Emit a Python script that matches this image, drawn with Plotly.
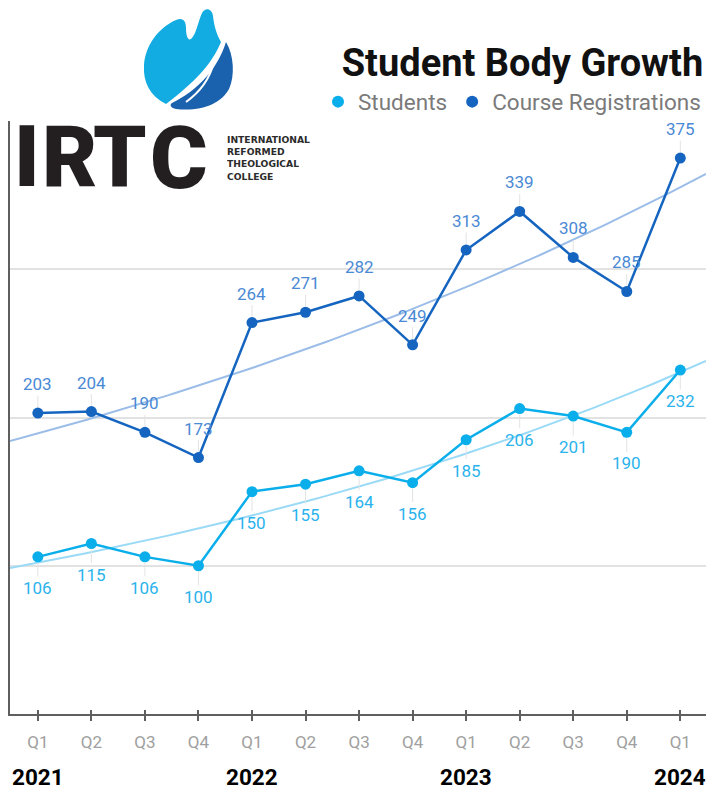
import numpy as np
import plotly.graph_objects as go

# ---------------- data ----------------
quarter_labels = ["Q1", "Q2", "Q3", "Q4", "Q1", "Q2", "Q3", "Q4", "Q1", "Q2", "Q3", "Q4", "Q1"]
year_labels = ["2021", "2022", "2023", "2024"]
year_positions = [0, 4, 8, 12]
students = [106, 115, 106, 100, 150, 155, 164, 156, 185, 206, 201, 190, 232]
registrations = [203, 204, 190, 173, 264, 271, 282, 249, 313, 339, 308, 285, 375]

# ---------------- style ----------------
C_STU = "#0aaeea"
C_REG = "#1565c0"
C_STU_LBL = "#2ab3ec"
C_REG_LBL = "#4a89d4"
C_STU_TR = "#9adaf6"
C_REG_TR = "#9bbde8"
W, H = 706, 791
ML, MR, MT, MB = 10, 0, 121, 77
PW, PH = W - ML - MR, H - MT - MB
XR = [-0.52, 12.48]

x = np.arange(len(students))


def exp_trend(vals):
    b, a = np.polyfit(x, np.log(vals), 1)
    xs = np.linspace(XR[0], XR[1], 120)
    return xs, np.exp(a + b * xs)


def px(xp, yp):
    return (xp - ML) / PW, (H - MB - yp) / PH


def path(cmds):
    out = []
    for c in cmds:
        if isinstance(c, str):
            out.append(c)
        else:
            a, b = px(*c)
            out.append(f"{a:.5f},{b:.5f}")
    return " ".join(out)


fig = go.Figure()

# trend lines
for vals, col in ((registrations, C_REG_TR), (students, C_STU_TR)):
    xs, ys = exp_trend(vals)
    fig.add_trace(go.Scatter(x=xs, y=ys, mode="lines", line=dict(color=col, width=2),
                             showlegend=False, hoverinfo="skip"))

# data lines
for vals, col in ((students, C_STU), (registrations, C_REG)):
    fig.add_trace(go.Scatter(x=x, y=vals, mode="lines", line=dict(color=col, width=2.5),
                             showlegend=False, hoverinfo="skip"))
# markers (legend entries)
fig.add_trace(go.Scatter(x=x, y=students, mode="markers", name="Students",
                         marker=dict(color=C_STU, size=11)))
fig.add_trace(go.Scatter(x=x, y=registrations, mode="markers", name="Course Registrations",
                         marker=dict(color=C_REG, size=11)))
# invisible trace for the overlay tick axis
fig.add_trace(go.Scatter(x=[None], y=[None], xaxis="x2", showlegend=False, hoverinfo="skip"))

ann = []
for i, v in enumerate(students):
    ann.append(dict(x=i, y=v, xref="x", yref="y", text=str(v), showarrow=True, ax=0, ay=31,
                    arrowhead=0, arrowwidth=1, arrowcolor="#e3e3e3", standoff=6,
                    font=dict(family="Roboto", size=17, color=C_STU_LBL)))
for i, v in enumerate(registrations):
    ann.append(dict(x=i, y=v, xref="x", yref="y", text=str(v), showarrow=True, ax=0, ay=-29,
                    arrowhead=0, arrowwidth=1, arrowcolor="#e3e3e3", standoff=6,
                    font=dict(family="Roboto", size=17, color=C_REG_LBL)))
for yl, xpos in zip(year_labels, year_positions):
    ann.append(dict(x=xpos, y=px(0, 777)[1], xref="x", yref="paper", text=yl, showarrow=False,
                    yanchor="middle", height=18, borderpad=0,
                    font=dict(family="Roboto", size=22.5, color="#000", weight="bold")))

# logo text
for letter, cx, fs in zip("IRTC", [27, 69, 120, 179], [85, 85, 85, 88]):
    a, b = px(cx, 157)
    ann.append(dict(x=a, y=b, xref="paper", yref="paper", text=letter, showarrow=False,
                    xanchor="center", yanchor="middle", borderpad=0,
                    font=dict(family="Roboto", size=fs, color="#231f20", weight=900)))
for t, yy in zip(["INTERNATIONAL", "REFORMED", "THEOLOGICAL", "COLLEGE"], [139, 151.5, 164, 176.5]):
    a, b = px(226, yy)
    ann.append(dict(x=a, y=b, xref="paper", yref="paper", text=t, showarrow=False,
                    xanchor="left", yanchor="middle", height=11, borderpad=0,
                    font=dict(family="DejaVu Sans", size=9.2, color="#2b2b2b", weight="bold")))

# flame shapes
light = path(["M", (166, 104), "C", (150, 96), (143, 82), (144, 66),
              "C", (145, 46), (158, 28), (176, 20),
              "C", (183, 17), (186, 21), (186, 28),
              "C", (186, 36), (188, 41), (191, 39),
              "C", (196, 35), (198, 22), (202, 13),
              "C", (205, 7), (212, 8), (213, 16),
              "C", (214, 25), (216, 33), (221, 42),
              "C", (212, 64), (195, 82), (166, 104), "Z"])
dark = path(["M", (226, 42), "C", (234, 55), (235, 76), (229, 89),
             "C", (221, 104), (200, 112), (176, 109),
             "C", (171, 108), (169, 105), (172, 103),
             "C", (198, 90), (217, 70), (226, 42), "Z"])
finger = path(["M", (214, 62), "C", (210, 78), (200, 92), (186, 102)])
shapes = [
    dict(type="path", path=light, xref="paper", yref="paper", fillcolor="#12ace2", line=dict(width=0), layer="above"),
    dict(type="path", path=dark, xref="paper", yref="paper", fillcolor="#1a62ad", line=dict(width=0), layer="above"),
    dict(type="path", path=finger, xref="paper", yref="paper", line=dict(color="white", width=2), layer="above"),
]

fig.update_layout(
    width=W, height=H,
    margin=dict(l=ML, r=MR, t=MT, b=MB),
    paper_bgcolor="white", plot_bgcolor="white",
    font=dict(family="Roboto"),
    title=dict(text="<b>Student Body Growth</b>", x=0.996, xref="container", xanchor="right",
               y=1 - 63 / H, yref="container", yanchor="middle",
               font=dict(family="Roboto", size=38, color="#111")),
    legend=dict(orientation="h", x=1.0, xanchor="right", y=px(0, 102)[1], yanchor="middle",
                font=dict(family="Roboto", size=22.5, color="#7a7a7a"), itemsizing="constant",
                bgcolor="rgba(0,0,0,0)"),
    xaxis=dict(range=XR, tickvals=list(range(13)), ticktext=quarter_labels, showgrid=False,
               showline=True, linecolor="#5f5f5f", linewidth=1.5, ticks="outside", ticklen=5,
               tickcolor="#5f5f5f", tickwidth=1.5, ticklabelstandoff=7,
               tickfont=dict(family="Roboto", size=17, color="#a0a0a0"), zeroline=False, fixedrange=True),
    xaxis2=dict(range=XR, overlaying="x", anchor="y", side="bottom", tickvals=list(range(13)),
                ticks="inside", ticklen=4, tickcolor="#5f5f5f", tickwidth=1.5,
                showticklabels=False, showline=False, showgrid=False, zeroline=False),
    yaxis=dict(range=[0, 400], dtick=100, showticklabels=False, showline=True, linecolor="#5f5f5f",
               linewidth=1.5, gridcolor="#e2e2e2", gridwidth=2, zeroline=False, fixedrange=True),
    annotations=ann,
    shapes=shapes,
    showlegend=True,
)

fig.write_html("out.html", config={"displayModeBar": False},
               post_script="document.body.style.margin='0';document.body.style.overflow='hidden';")
